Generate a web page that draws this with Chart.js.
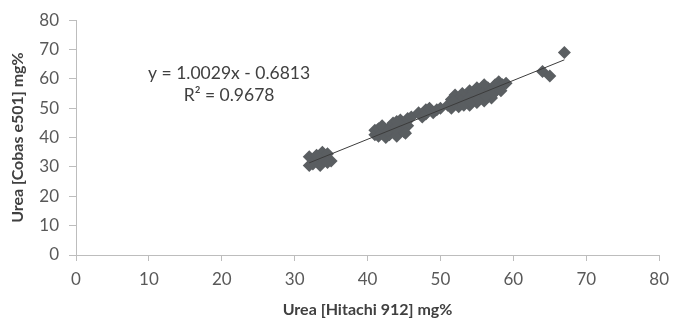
<!DOCTYPE html>
<html>
<head>
<meta charset="utf-8">
<script src="https://cdn.jsdelivr.net/npm/chart.js@4/dist/chart.umd.min.js"></script>
<style>
  html, body { margin: 0; padding: 0; background: #fff; }
  #wrap { width: 677px; height: 327px; position: relative; }
</style>
</head>
<body>
<div id="wrap"><canvas id="chart" width="677" height="327"></canvas></div>
<script>
// Urea: Hitachi 912 vs Cobas e501
const hitachi = [
  32, 32, 32.5, 33, 33.5, 33.8, 34, 34.5, 35, 34.5, 33,
  41, 41, 41.5, 41.5, 42, 42, 42.5, 42.5, 43, 43, 43.5, 43.5, 44, 44, 44.5, 44.5, 45, 45, 45.5, 45.5, 46, 45.2, 44, 42.8, 43.8,
  47, 47.5, 48, 48, 48.5, 49, 49.5, 50,
  51, 51.5, 51.5, 52, 52, 52.5, 52.5, 53, 53, 53.5, 53.5, 54, 54, 54.5, 54.5, 55, 55, 55, 55.5, 55.5,
  56, 56, 56.5, 56.5, 57, 57, 57.5, 57.5, 58, 58, 58.5, 59, 56,
  52.8, 53.8, 54.8, 55.8, 56.8, 57.8, 51.8, 53.2, 54.2, 55.2, 56.2, 57.2, 58.3,
  64, 65, 67
];
const cobas = [
  30.5, 33.5, 31, 32.5, 30.5, 35, 33, 34.5, 32, 31.5, 34,
  41, 42.5, 40.5, 43, 41.5, 44, 42, 40, 43.5, 41, 45, 42.5, 44, 40.5, 46, 43, 45, 42, 46.5, 44, 47, 41.5, 45.5, 42.3, 43,
  48.5, 47, 49.5, 48, 50, 48.5, 49.5, 50,
  51, 50, 53, 52, 54.5, 50.5, 53, 51.5, 55, 52.5, 54, 51, 56, 53, 55.5, 54, 57, 52, 56, 53.5,
  55, 58, 54, 57, 56, 53.5, 58, 55.5, 57, 59, 58, 58.5, 52.5,
  52.5, 53.2, 54.5, 55, 55.8, 56.5, 52.2, 51, 52.2, 53, 54.2, 55, 56,
  62.5, 61, 69
];
// linear trendline end points
const trendX = [32, 67];
const trendY = [31.4, 66.5];
const equationLines = ['y = 1.0029x - 0.6813', 'R² = 0.9678'];
const xTicks = [0, 10, 20, 30, 40, 50, 60, 70, 80];
const yTicks = [0, 10, 20, 30, 40, 50, 60, 70, 80];

const axisGray = '#bdbdbd';
const textGray = '#595959';

const equationPlugin = {
  id: 'equation',
  afterDraw(chart) {
    const { ctx, scales } = chart;
    const cx = scales.x.getPixelForValue(21);
    ctx.save();
    ctx.fillStyle = '#404040';
    ctx.font = '17.5px Lato';
    ctx.textAlign = 'center';
    ctx.textBaseline = 'middle';
    ctx.fillText(equationLines[0], cx, scales.y.getPixelForValue(62));
    ctx.fillText(equationLines[1], cx, scales.y.getPixelForValue(54.3));
    ctx.restore();
  }
};

new Chart(document.getElementById('chart'), {
  type: 'scatter',
  data: {
    datasets: [
      {
        type: 'line',
        label: 'Trend',
        data: trendX.map((x, i) => ({ x, y: trendY[i] })),
        borderColor: '#3c3c3c',
        borderWidth: 1,
        pointRadius: 0,
        fill: false,
      },
      {
        label: 'Urea',
        data: hitachi.map((x, i) => ({ x, y: cobas[i] })),
        pointStyle: 'rectRot',
        pointRadius: 6.5,
        backgroundColor: '#5a5e61',
        borderColor: '#5a5e61',
        borderWidth: 0,
      },
    ],
  },
  options: {
    responsive: false,
    animation: false,
    layout: { padding: { top: 15, right: 10, left: 0, bottom: 0 } },
    plugins: {
      legend: { display: false },
      tooltip: { enabled: false },
    },
    scales: {
      x: {
        type: 'linear',
        min: 0, max: 80,
        afterBuildTicks: (s) => { s.ticks = xTicks.map((v) => ({ value: v })); },
        afterFit: (s) => { s.height = 72; },
        grid: { drawOnChartArea: false, color: axisGray, tickLength: 6 },
        border: { color: axisGray },
        ticks: { color: textGray, font: { family: 'Lato', size: 17 }, padding: 8 },
        title: {
          display: true,
          text: 'Urea [Hitachi 912] mg%',
          color: '#404040',
          font: { family: 'Lato', size: 16, weight: 'bold' },
          padding: { top: 0, bottom: 8 },
        },
      },
      y: {
        type: 'linear',
        min: 0, max: 80,
        afterBuildTicks: (s) => { s.ticks = yTicks.map((v) => ({ value: v })); },
        afterFit: (s) => { s.width = 76; },
        grid: { drawOnChartArea: false, color: axisGray, tickLength: 7 },
        border: { color: axisGray },
        ticks: { color: textGray, font: { family: 'Lato', size: 17 }, padding: 10 },
        title: {
          display: true,
          text: 'Urea [Cobas e501] mg%',
          color: '#404040',
          font: { family: 'Lato', size: 16, weight: 'bold' },
          padding: { top: 8, bottom: 0 },
        },
      },
    },
  },
  plugins: [equationPlugin],
});
</script>
</body>
</html>
